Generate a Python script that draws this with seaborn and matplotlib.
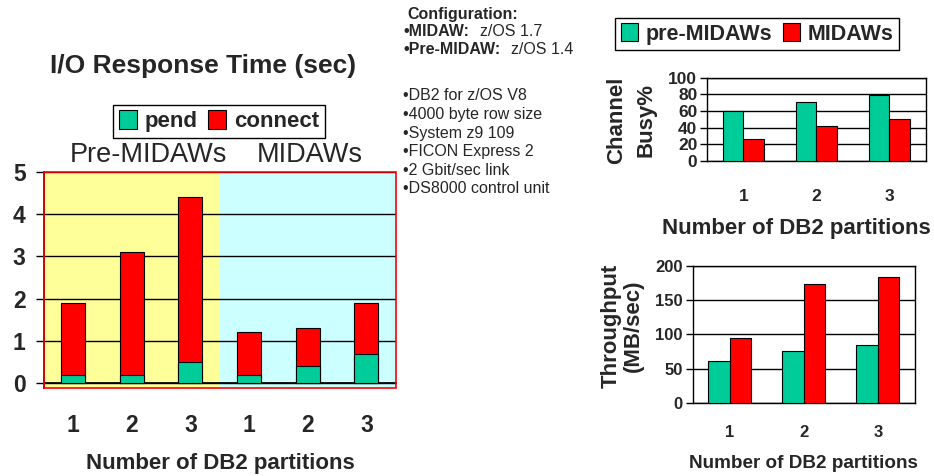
"""I/O response time, channel busy and throughput: pre-MIDAWs vs MIDAWs."""
import matplotlib

matplotlib.use("Agg")
import matplotlib.pyplot as plt
import pandas as pd
import seaborn as sns
from matplotlib.patches import Patch, Rectangle
from matplotlib.ticker import FixedLocator

W, H = 934, 476
GREEN = "#00CC99"
RED = "#FF0000"
YELLOW = "#FFFF99"
CYAN = "#CCFFFF"

# response time chart (stacked)
resp_cases = ["pre1", "pre2", "pre3", "mid1", "mid2", "mid3"]
resp_labels = ["1", "2", "3", "1", "2", "3"]
pend = [0.2, 0.2, 0.5, 0.2, 0.4, 0.7]
connect = [1.7, 2.9, 3.9, 1.0, 0.9, 1.2]

# channel busy / throughput charts
partitions = ["1", "2", "3"]
busy_pre = [60, 71, 79]
busy_mid = [26, 42, 50]
thru_pre = [61, 76, 84]
thru_mid = [95, 173, 184]

config_lines = ["•DB2 for z/OS V8", "•4000 byte row size", "•System z9 109",
                "•FICON Express 2", "•2 Gbit/sec link", "•DS8000 control unit"]

sns.set_theme(style="white")
plt.rcParams["font.family"] = ["Liberation Sans", "DejaVu Sans"]
plt.rcParams["font.weight"] = "bold"


def px(x, y):
    return x / W, 1 - y / H


def box(x0, y0, x1, y1):
    return [x0 / W, 1 - y1 / H, (x1 - x0) / W, (y1 - y0) / H]


def style_axis(ax, tick_size, ncat):
    ax.set_xlim(-0.5, ncat - 0.5)
    ax.xaxis.set_major_locator(FixedLocator(range(ncat)))
    ax.xaxis.set_minor_locator(FixedLocator([i - 0.5 for i in range(ncat + 1)]))
    ax.tick_params(axis="x", which="major", length=0, pad=18, labelsize=tick_size)
    ax.tick_params(axis="x", which="minor", length=6, width=1, color="black", direction="out")
    ax.tick_params(axis="y", length=5, width=1, color="black", direction="out",
                   labelsize=tick_size, pad=2, left=True)
    ax.grid(axis="y", color="black", linewidth=1)
    ax.set_axisbelow(True)
    ax.set_xlabel("")
    ax.set_ylabel("")


fig = plt.figure(figsize=(W / 100, H / 100), dpi=100)

# ---- left: I/O response time -------------------------------------------
ax = fig.add_axes(box(43.7, 171.7, 395.7, 387.5))
resp = pd.DataFrame({"case": resp_cases, "pend": pend,
                     "total": [p + c for p, c in zip(pend, connect)]})
ax.axvspan(-0.5, 2.5, color=YELLOW, zorder=0)
ax.axvspan(2.5, 5.5, color=CYAN, zorder=0)
sns.barplot(data=resp, x="case", y="total", order=resp_cases, color=RED, width=0.41,
            edgecolor="black", linewidth=0.8, saturation=1, ax=ax, zorder=3)
sns.barplot(data=resp, x="case", y="pend", order=resp_cases, color=GREEN, width=0.41,
            edgecolor="black", linewidth=0.8, saturation=1, ax=ax, zorder=3)
ax.set_ylim(-0.1, 5)
ax.set_yticks(range(6))
style_axis(ax, 16.5, 6)
ax.set_xticklabels(resp_labels, fontweight="bold")
ax.tick_params(axis="x", which="major", pad=22)
ax.tick_params(axis="y", length=6, pad=7)
for s in ["top", "right"]:
    ax.spines[s].set_visible(False)
ax.spines["bottom"].set_position(("data", 0))
ax.spines["bottom"].set_color("black")
ax.spines["left"].set_color("black")
ax.add_patch(Rectangle((-0.5, -0.1), 6, 5.1, fill=False, edgecolor=RED,
                       linewidth=1.2, zorder=4, clip_on=False))

fig.text(*px(203, 66), "I/O Response Time (sec)", fontsize=19, fontweight="bold",
         ha="center", va="center")
fig.text(*px(148, 155), "Pre-MIDAWs", fontsize=19.5, fontweight="normal",
         ha="center", va="center")
fig.text(*px(310, 155), "MIDAWs", fontsize=19.5, fontweight="normal",
         ha="center", va="center")
fig.text(*px(220, 464), "Number of DB2 partitions", fontsize=16, fontweight="bold",
         ha="center", va="center")
leg_handles = [Patch(facecolor=GREEN, edgecolor="black", linewidth=0.8, label="pend"),
               Patch(facecolor=RED, edgecolor="black", linewidth=0.8, label="connect")]
fig.legend(handles=leg_handles, loc="center", bbox_to_anchor=px(219, 121), ncol=2,
           frameon=True, fancybox=False, edgecolor="black", framealpha=1,
           prop={"size": 16, "weight": "bold"}, handlelength=0.8, handleheight=0.9,
           handletextpad=0.35, columnspacing=0.5, borderpad=0.25, borderaxespad=0)

# ---- configuration notes -------------------------------------------------
fig.text(*px(407, 14), "Configuration:", fontsize=11.5, fontweight="bold", va="center")
for y, head, rest in [(32, "•MIDAW:", "z/OS 1.7"), (50, "•Pre-MIDAW:", "z/OS 1.4")]:
    t = fig.text(*px(403, y), head, fontsize=11.5, fontweight="bold", va="center")
    ax.annotate(rest, xy=(1, 0.5), xycoords=t, xytext=(8, 0), textcoords="offset points",
                fontsize=11.5, fontweight="normal", va="center", annotation_clip=False)
for i, line in enumerate(config_lines):
    fig.text(*px(403, 96 + 18.6 * i), line, fontsize=11.5, fontweight="normal", va="center")

# ---- top right: channel busy --------------------------------------------
busy = pd.DataFrame({"part": partitions * 2,
                     "val": busy_pre + busy_mid,
                     "series": ["pre-MIDAWs"] * 3 + ["MIDAWs"] * 3})
ax2 = fig.add_axes(box(707, 77.7, 925.7, 161))
sns.barplot(data=busy, x="part", y="val", hue="series", palette=[GREEN, RED],
            width=0.56, edgecolor="black", linewidth=0.8, saturation=1,
            legend=False, ax=ax2, zorder=3)
ax2.set_ylim(0, 100)
ax2.set_yticks(range(0, 101, 20))
style_axis(ax2, 12.5, 3)
ax2.set_xticklabels(partitions, fontweight="bold")
ax2.tick_params(axis="x", which="major", pad=20)
for s in ax2.spines.values():
    s.set_color("black")
    s.set_linewidth(1)
fig.text(*px(617, 120), "Channel", fontsize=16, fontweight="bold", rotation=90,
         ha="center", va="center")
fig.text(*px(646, 120), "Busy%", fontsize=16, fontweight="bold", rotation=90,
         ha="center", va="center")
fig.text(*px(796, 228), "Number of DB2 partitions", fontsize=16, fontweight="bold",
         ha="center", va="center")
leg2 = [Patch(facecolor=GREEN, edgecolor="black", linewidth=0.8, label="pre-MIDAWs"),
        Patch(facecolor=RED, edgecolor="black", linewidth=0.8, label="MIDAWs")]
fig.legend(handles=leg2, loc="center", bbox_to_anchor=px(757, 34), ncol=2,
           frameon=True, fancybox=False, edgecolor="black", framealpha=1,
           prop={"size": 15.5, "weight": "bold"}, handlelength=0.8, handleheight=0.9,
           handletextpad=0.35, columnspacing=0.5, borderpad=0.25, borderaxespad=0)

# ---- bottom right: throughput -------------------------------------------
thru = pd.DataFrame({"part": partitions * 2,
                     "val": thru_pre + thru_mid,
                     "series": ["pre-MIDAWs"] * 3 + ["MIDAWs"] * 3})
ax3 = fig.add_axes(box(692.7, 266, 915, 402.7))
sns.barplot(data=thru, x="part", y="val", hue="series", palette=[GREEN, RED],
            width=0.58, edgecolor="black", linewidth=0.8, saturation=1,
            legend=False, ax=ax3, zorder=3)
ax3.set_ylim(0, 200)
ax3.set_yticks(range(0, 201, 50))
style_axis(ax3, 12, 3)
ax3.set_xticklabels(partitions, fontweight="bold")
ax3.tick_params(axis="x", which="major", pad=16)
for s in ax3.spines.values():
    s.set_color("black")
    s.set_linewidth(1)
fig.text(*px(611, 326), "Throughput", fontsize=16, fontweight="bold", rotation=90,
         ha="center", va="center")
fig.text(*px(633, 326), "(MB/sec)", fontsize=16, fontweight="bold", rotation=90,
         ha="center", va="center")
fig.text(*px(803, 464), "Number of DB2 partitions", fontsize=13.6, fontweight="bold",
         ha="center", va="center")

fig.savefig("out.png", dpi=100)
